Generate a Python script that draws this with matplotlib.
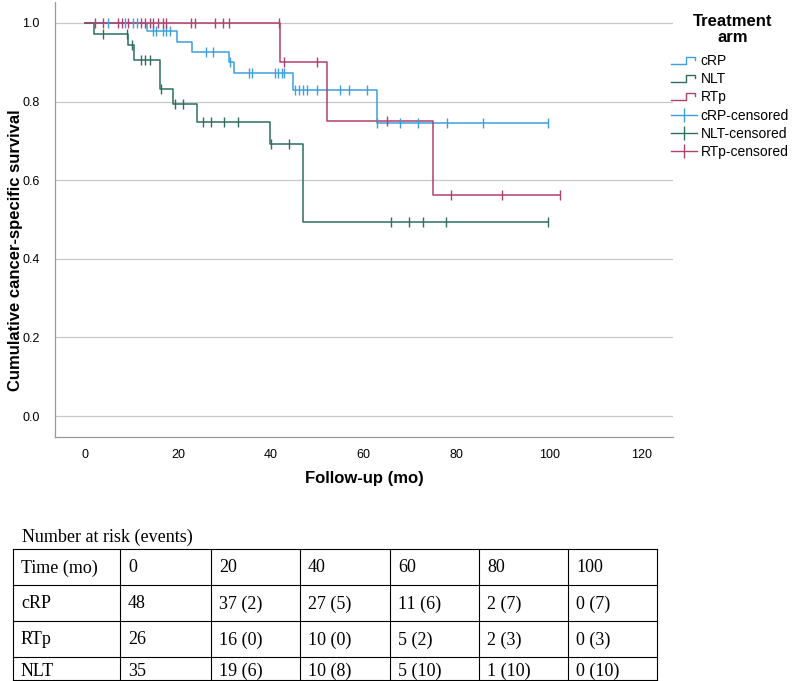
import numpy as np
import matplotlib
matplotlib.use("Agg")
import matplotlib.pyplot as plt
from matplotlib.lines import Line2D
from matplotlib.legend_handler import HandlerBase

# Kaplan-Meier step data (time in months, survival)
crp_t = [0, 13.3, 19.9, 23.0, 30.9, 32.0, 44.9, 62.8, 99.8]
crp_s = [1.0, 0.979, 0.952, 0.927, 0.900, 0.872, 0.828, 0.745, 0.745]
crp_cens = [5.0, 8.6, 10.4, 11.1, 14.6, 15.3, 16.7, 17.4, 18.3, 26.0, 27.6, 31.2,
            35.3, 36.0, 40.9, 41.6, 42.4, 42.9, 45.3, 46.1, 47.0, 47.8, 49.9,
            55.0, 56.9, 60.8, 62.9, 67.9, 71.8, 77.9, 85.8, 99.8]

nlt_t = [0, 2.0, 9.2, 10.6, 16.2, 19.0, 24.1, 39.9, 47.0, 99.8]
nlt_s = [1.0, 0.971, 0.943, 0.906, 0.831, 0.794, 0.749, 0.691, 0.494, 0.494]
nlt_cens = [3.9, 9.0, 10.1, 12.1, 12.9, 13.9, 16.3, 19.4, 21.1, 25.3, 27.1, 30.0,
            33.0, 40.1, 44.0, 66.0, 69.8, 72.8, 77.8, 99.8]

rtp_t = [0, 42.0, 52.1, 74.9, 102.4]
rtp_s = [1.0, 0.900, 0.750, 0.563, 0.563]
rtp_cens = [2.2, 3.8, 7.0, 7.9, 9.3, 12.1, 12.9, 13.9, 14.7, 15.7, 16.8, 17.5,
            22.8, 23.7, 28.0, 29.8, 30.9, 41.7, 42.8, 49.9, 65.0, 78.9, 89.9, 102.4]

# number at risk table
risk_header = ["Time (mo)", "0", "20", "40", "60", "80", "100"]
risk_crp = ["cRP", "48", "37 (2)", "27 (5)", "11 (6)", "2 (7)", "0 (7)"]
risk_rtp = ["RTp", "26", "16 (0)", "10 (0)", "5 (2)", "2 (3)", "0 (3)"]
risk_nlt = ["NLT", "35", "19 (6)", "10 (8)", "5 (10)", "1 (10)", "0 (10)"]

c_crp = "#3d9fe0"
c_nlt = "#2e6e60"
c_rtp = "#b0406c"

sans = ["Liberation Sans", "DejaVu Sans"]
serif = ["Liberation Serif", "DejaVu Serif"]
plt.rcParams['font.family'] = sans


def surv_at(t, times, surv):
    idx = np.searchsorted(times, t, side='right') - 1
    return np.asarray(surv)[idx]


class StepHandler(HandlerBase):
    """little step glyph like the SPSS legend"""
    def create_artists(self, legend, orig_handle, xdescent, ydescent, width, height, fontsize, trans):
        x0 = -xdescent
        y0 = -ydescent
        xs = [x0, x0 + 0.55 * width, x0 + 0.55 * width, x0 + 0.92 * width, x0 + 0.92 * width]
        ys = [y0 + 0.1 * height, y0 + 0.1 * height, y0 + 0.85 * height, y0 + 0.85 * height, y0 + 0.5 * height]
        ln = Line2D(xs, ys, color=orig_handle.get_color(), lw=1.0)
        ln.set_transform(trans)
        return [ln]


fig = plt.figure(figsize=(7.93, 6.81), dpi=100)
ax = fig.add_axes([55 / 793, 1 - 437 / 681, 618 / 793, 435 / 681])

ax.set_xlim(-6.5, 126.7)
ax.set_ylim(-0.053, 1.053)
ax.set_yticks([0, 0.2, 0.4, 0.6, 0.8, 1.0])
ax.set_xticks([0, 20, 40, 60, 80, 100, 120])
ax.yaxis.set_major_formatter(matplotlib.ticker.FormatStrFormatter('%.1f'))
ax.grid(axis='y', color='#c8c8c8', lw=0.9)
ax.set_axisbelow(True)
for s in ['top', 'right']:
    ax.spines[s].set_visible(False)
for s in ['left', 'bottom']:
    ax.spines[s].set_color('#9a9a9a')
    ax.spines[s].set_linewidth(0.9)
ax.tick_params(length=0, labelsize=9, pad=11)
ax.tick_params(axis='x', pad=9)

lines = []
for t, s, c in [(crp_t, crp_s, c_crp), (nlt_t, nlt_s, c_nlt), (rtp_t, rtp_s, c_rtp)]:
    l, = ax.step(t, s, where='post', color=c, lw=1.1)
    lines.append(l)

cens_handles = []
for cens, t, s, c in [(crp_cens, crp_t, crp_s, c_crp), (nlt_cens, nlt_t, nlt_s, c_nlt),
                      (rtp_cens, rtp_t, rtp_s, c_rtp)]:
    ax.plot(cens, surv_at(cens, t, s), ls='none', marker='|', ms=7, mew=1.0, color=c)
    cens_handles.append(Line2D([], [], color=c, lw=1.0, marker='|', ms=10, mew=1.0))

ax.set_xlabel("Follow-up (mo)", fontsize=12, fontweight='bold')
ax.xaxis.set_label_coords(0.5, -0.078)
ax.set_ylabel("Cumulative cancer-specific survival", fontsize=12, fontweight='bold')
ax.yaxis.set_label_coords(-0.052, 0.43)

fig.text(733 / 793, 1 - 29.5 / 681, "Treatment\narm", ha='center', va='center', multialignment='center',
         fontsize=12, fontweight='bold', linespacing=1.08)
fig.legend(lines + cens_handles,
           ["cRP", "NLT", "RTp", "cRP-censored", "NLT-censored", "RTp-censored"],
           handler_map={lines[0]: StepHandler(), lines[1]: StepHandler(), lines[2]: StepHandler()},
           loc='upper left', bbox_to_anchor=(671 / 793, 1 - 54 / 681), frameon=False,
           fontsize=10, handlelength=1.9, handletextpad=0.25, labelspacing=0.3,
           borderpad=0, borderaxespad=0)

# number at risk table under the chart, drawn in pixel coordinates
tax = fig.add_axes([0, 0, 1, 1])
tax.set_xlim(0, 793)
tax.set_ylim(681, 0)
tax.axis('off')
tax.text(22, 537, "Number at risk (events)", family=serif, fontsize=13, va='center', ha='left')
col_edges = [13, 120, 211, 300, 390, 479, 568, 657]
row_edges = [549, 585, 621, 657, 680]
text_y = [568, 604, 640, 671]
for y in row_edges:
    tax.plot([col_edges[0], col_edges[-1]], [y, y], color='black', lw=0.8)
for x in col_edges:
    tax.plot([x, x], [row_edges[0], row_edges[-1]], color='black', lw=0.8)
for r, row in enumerate([risk_header, risk_crp, risk_rtp, risk_nlt]):
    for c, txt in enumerate(row):
        tax.text(col_edges[c] + 8, text_y[r], txt, family=serif, fontsize=13, va='center', ha='left')

fig.savefig("out.png", dpi=100)
